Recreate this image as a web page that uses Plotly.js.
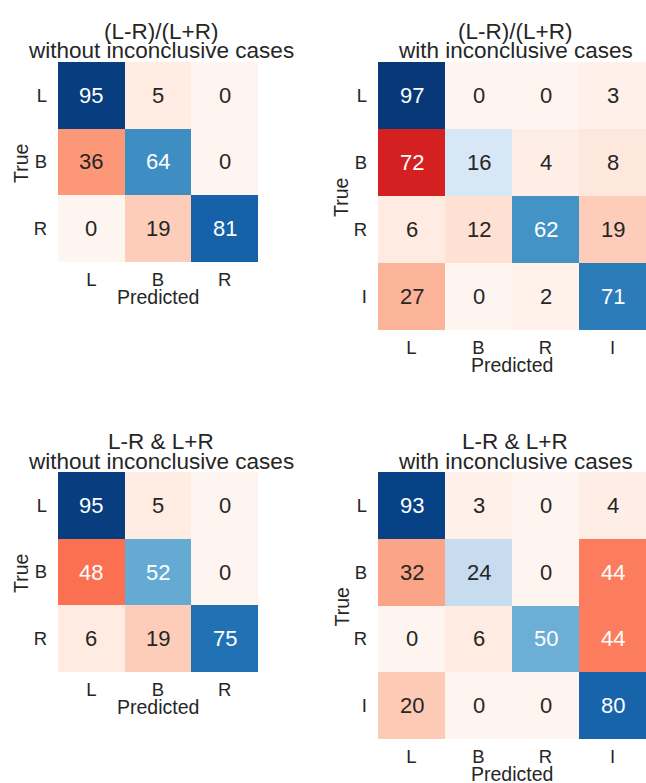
<!DOCTYPE html>
<html>
<head>
<meta charset="utf-8">
<script src="https://cdn.plot.ly/plotly-3.0.1.min.js"></script>
<style>html,body{margin:0;padding:0;background:#fff;}#chart{width:646px;height:783px;}</style>
</head>
<body>
<div id="chart"></div>
<script>
// ---- data ----
const labels3 = ['L', 'B', 'R'];
const labels4 = ['L', 'B', 'R', 'I'];

const z1 = [[95, 5, 0], [36, 64, 0], [0, 19, 81]];
const z2 = [[97, 0, 0, 3], [72, 16, 4, 8], [6, 12, 62, 19], [27, 0, 2, 71]];
const z3 = [[95, 5, 0], [48, 52, 0], [6, 19, 75]];
const z4 = [[93, 3, 0, 4], [32, 24, 0, 44], [0, 6, 50, 44], [20, 0, 0, 80]];

const titleLine1 = ['(L-R)/(L+R)', '(L-R)/(L+R)', 'L-R & L+R', 'L-R & L+R'];
const titleLine2 = ['without inconclusive cases', 'with inconclusive cases',
                    'without inconclusive cases', 'with inconclusive cases'];
const xTitle = 'Predicted';
const yTitle = 'True';

// ---- styles ----
const blues = ['#f7fbff','#deebf7','#c6dbef','#9ecae1','#6baed6','#4292c6','#2171b5','#08519c','#08306b'];
const reds  = ['#fff5f0','#fee0d2','#fcbba1','#fc9272','#fb6a4a','#ef3b2c','#cb181d','#a50f15','#67000d'];
const toScale = cols => cols.map((c, i) => [i / (cols.length - 1), c]);
const FONT = 'Liberation Sans, Arial, sans-serif';
const TXT = '#262626';

const W = 646, H = 783;
const panels = [
  {z: z1, labels: labels3, x0: 58,  x1: 258, y0: 62,  y1: 262},
  {z: z2, labels: labels4, x0: 378, x1: 646, y0: 62,  y1: 330},
  {z: z3, labels: labels3, x0: 58,  x1: 258, y0: 472, y1: 672},
  {z: z4, labels: labels4, x0: 378, x1: 646, y0: 472, y1: 739}
];

const data = [];
const annotations = [];
const layout = {
  width: W, height: H,
  margin: {l: 0, r: 0, t: 0, b: 0},
  paper_bgcolor: '#ffffff', plot_bgcolor: '#ffffff',
  font: {family: FONT, color: TXT, size: 19},
  showlegend: false
};
const px = v => v / W, py = v => 1 - v / H;

panels.forEach((p, k) => {
  const n = k === 0 ? '' : String(k + 1);
  const xa = 'x' + n, ya = 'y' + n;
  const diag = p.z.map((row, i) => row.map((v, j) => i === j ? v : null));
  const off  = p.z.map((row, i) => row.map((v, j) => i !== j ? v : null));
  [[diag, blues], [off, reds]].forEach(([zz, cs]) => {
    data.push({
      type: 'heatmap', x: p.labels, y: p.labels, z: zz,
      colorscale: toScale(cs), zmin: 0, zmax: 100, showscale: false,
      xaxis: xa, yaxis: ya, hoverinfo: 'skip'
    });
  });
  p.z.forEach((row, i) => row.forEach((v, j) => {
    annotations.push({
      xref: xa, yref: ya, x: p.labels[j], y: p.labels[i], text: String(v),
      showarrow: false, font: {family: FONT, size: 22, color: v > 40 ? '#ffffff' : TXT}
    });
  }));
  const cx = (p.x0 + p.x1) / 2;
  const tfont = {family: FONT, size: 22.5, color: TXT};
  annotations.push({xref: 'paper', yref: 'paper', x: px(cx + 3), y: py(p.y0 - 31),
    xanchor: 'center', yanchor: 'middle', text: titleLine1[k], showarrow: false, font: tfont});
  annotations.push({xref: 'paper', yref: 'paper', x: px(cx + 3), y: py(p.y0 - 11),
    xanchor: 'center', yanchor: 'middle', text: titleLine2[k], showarrow: false, font: tfont});
  const afont = {family: FONT, size: 19.5, color: TXT};
  annotations.push({xref: 'paper', yref: 'paper', x: px(cx), y: py(p.y1 + 35),
    xanchor: 'center', yanchor: 'middle', text: xTitle, showarrow: false, font: afont});
  annotations.push({xref: 'paper', yref: 'paper', x: px(p.x0 - 37), y: py((p.y0 + p.y1) / 2 + 2),
    xanchor: 'center', yanchor: 'middle', text: yTitle, textangle: -90, showarrow: false, font: afont});
  layout['xaxis' + n] = {
    domain: [p.x0 / W, p.x1 / W], anchor: ya, type: 'category',
    showgrid: false, zeroline: false, showline: false, ticks: '', ticklabelstandoff: 4,
    tickfont: {size: 18.5, color: TXT},
    automargin: false, fixedrange: true
  };
  layout['yaxis' + n] = {
    domain: [1 - p.y1 / H, 1 - p.y0 / H], anchor: xa, type: 'category',
    autorange: 'reversed',
    showgrid: false, zeroline: false, showline: false, ticks: '', ticklabelstandoff: 10,
    tickfont: {size: 18.5, color: TXT},
    automargin: false, fixedrange: true
  };
});
layout.annotations = annotations;

Plotly.newPlot('chart', data, layout, {staticPlot: true, displayModeBar: false});
</script>
</body>
</html>
